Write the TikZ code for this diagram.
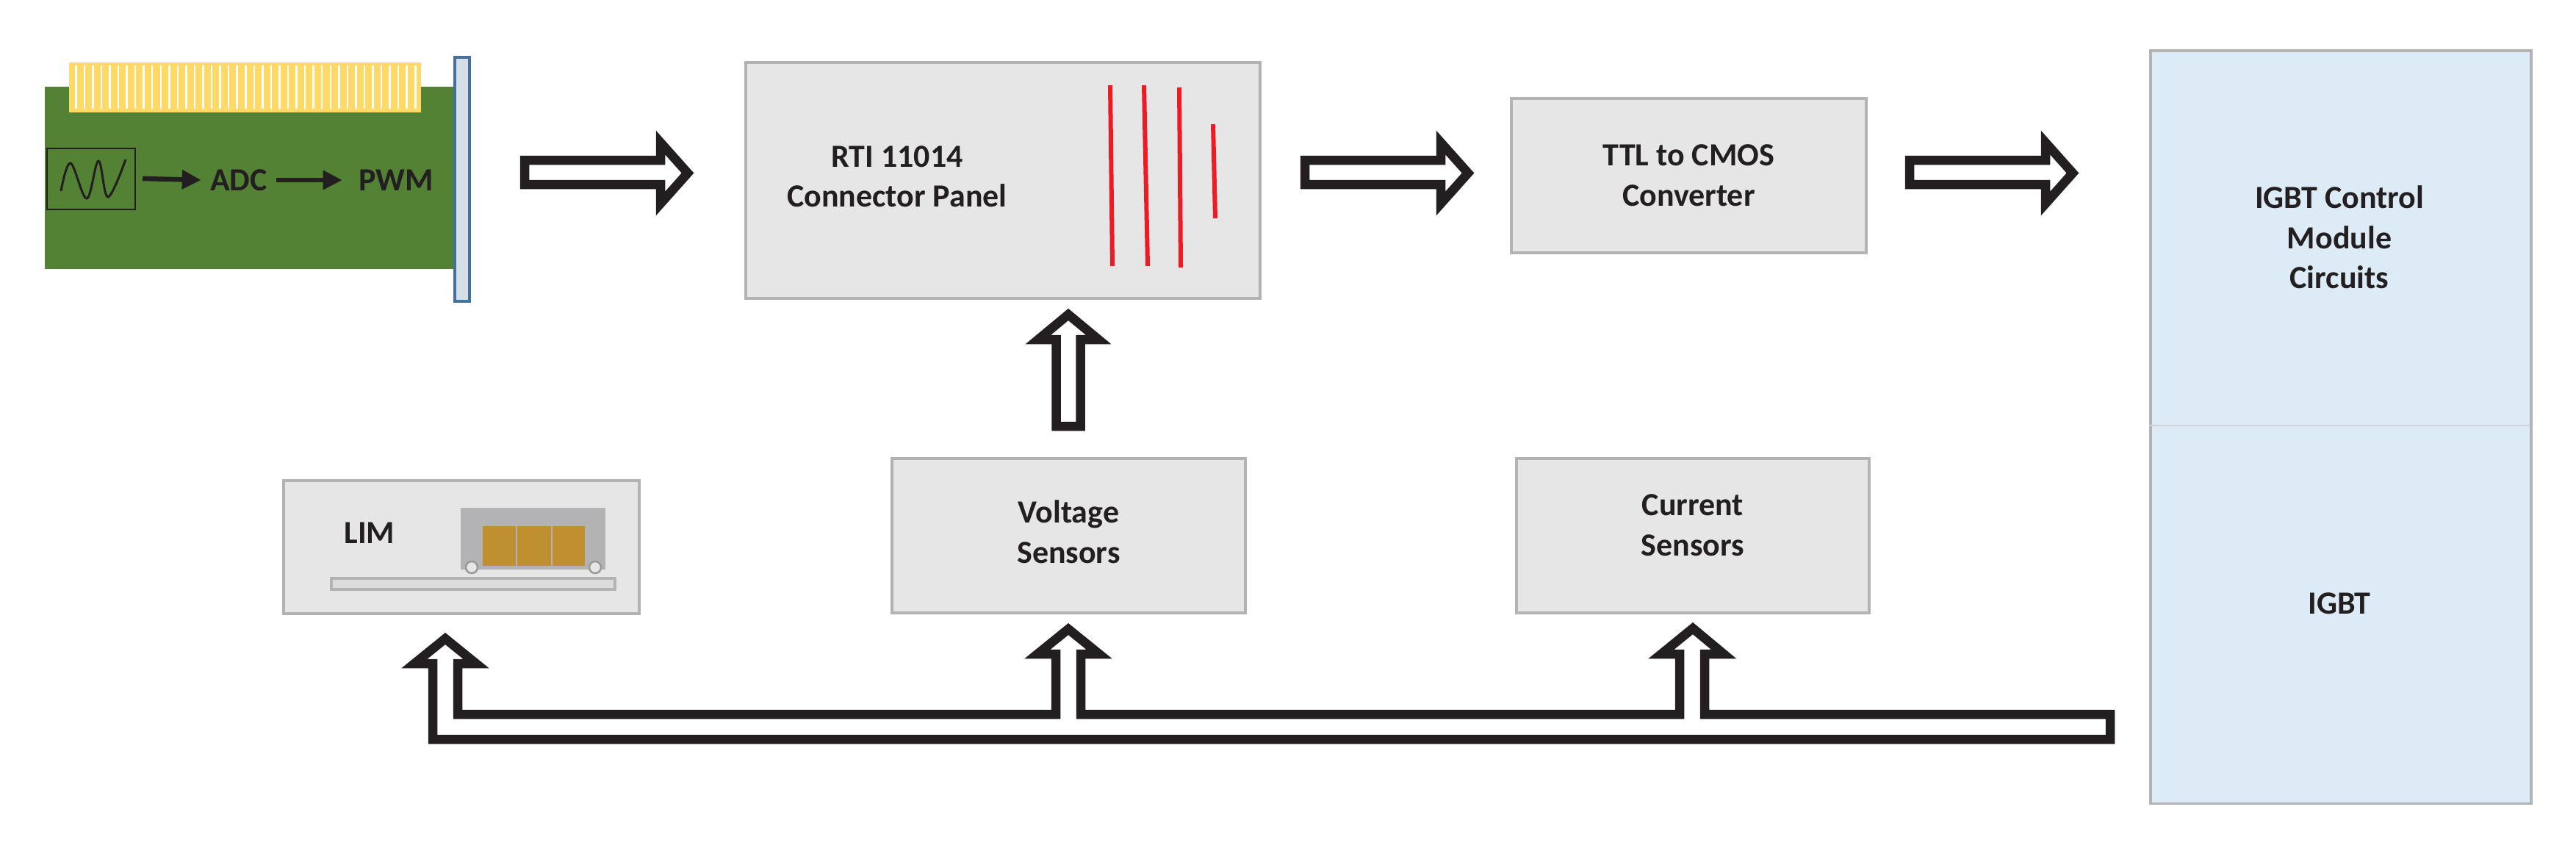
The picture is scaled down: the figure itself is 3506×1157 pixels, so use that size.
\documentclass[tikz,border=0pt]{standalone}
\usepackage{fontspec}
\setmainfont{Carlito}
\usetikzlibrary{arrows.meta}
\definecolor{boxfill}{HTML}{E6E6E6}
\definecolor{boxline}{HTML}{B3B3B5}
\definecolor{igbtfill}{HTML}{DDEBF7}
\definecolor{pcbgreen}{HTML}{548235}
\definecolor{gold}{HTML}{FFD966}
\definecolor{barfill}{HTML}{D6DEE8}
\definecolor{barline}{HTML}{41719C}
\definecolor{cartgold}{HTML}{BF9030}
\definecolor{redline}{HTML}{ED1C24}
\definecolor{pipe}{HTML}{231F20}
\tikzset{
  lbl/.style={font=\fontsize{12.5}{15.5}\selectfont\bfseries, text=pipe, align=center},
  box/.style={draw=boxline, fill=boxfill, line width=1pt, anchor=north west, inner sep=0pt},
  hollow/.style={draw=pipe, line width=0.125cm, miter limit=20, fill=white},
  red/.style={draw=redline, line width=0.06cm},
  small/.style={draw=pipe, line width=0.065cm, -{Triangle[length=0.26cm,width=0.25cm]}}
}
\begin{document}
\begin{tikzpicture}[x=0.01cm,y=-0.01cm]
\useasboundingbox (0,0) rectangle (3506,1157);
% PCB
\fill[pcbgreen] (61,118) rectangle (619,366);
\fill[gold] (94,85) rectangle (573,153);
\foreach \i in {0,...,40} \fill[white] ({102+\i*11.55},89) rectangle ({104.5+\i*11.55},148);
\draw[fill=barfill, draw=barline, line width=1pt] (619,78) rectangle (639,410);
\draw[pipe, line width=0.02cm] (64,202) rectangle (184,285);
\draw[pipe, line width=0.03cm] plot[smooth, tension=0.6] coordinates {(83,260) (96,222) (118,270) (134,219) (147,268) (171,217)};
\node[lbl] (adc) at (325,245) {ADC};
\node[lbl] (pwm) at (539,245) {PWM};
\coordinate (wv) at (194,243);
\draw[small] (wv) -- (adc.west);
\draw[small] (adc.east) -- ([xshift=-0.1cm]pwm.west);
% boxes
\node[box, minimum width=7cm, minimum height=3.21cm] (rti) at (1013,83) {};
\node[lbl] at (1221,240) {RTI 11014\\Connector Panel};
\draw[red] (1511,116) -- (1514,362);
\draw[red] (1557,116) -- (1562,362);
\draw[red] (1605,119) -- (1607,364);
\draw[red] (1651,169) -- (1654,297);
\node[box, minimum width=4.83cm, minimum height=2.1cm] (ttl) at (2055,132) {};
\node[lbl] at (ttl.center) {TTL to CMOS\\Converter};
\node[box, minimum width=4.81cm, minimum height=2.1cm] (vs) at (1212,622) {};
\node[lbl] at ([yshift=0.05cm]vs.center) {Voltage\\Sensors};
\node[box, minimum width=4.8cm, minimum height=2.1cm] (cs) at (2062,622) {};
\node[lbl] at ([yshift=0.14cm]cs.center) {Current\\Sensors};
\node[box, draw=boxline, fill=igbtfill, minimum width=5.18cm, minimum height=10.24cm] (igbt) at (2925,67) {};
\draw[draw=boxline!60, line width=0.6pt] (2925,579) -- (3443,579);
\node[lbl] at (3184,323) {IGBT Control\\Module\\Circuits};
\node[lbl] at (3184,821) {IGBT};
% LIM
\node[box, minimum width=4.84cm, minimum height=1.81cm] (lim) at (384,652) {};
\node[lbl] at (503,725) {LIM};
\fill[boxline] (627,691) rectangle (824,775);
\fill[cartgold] (657,716) rectangle (702,770);
\fill[cartgold] (704,716) rectangle (750,770);
\fill[cartgold] (752,716) rectangle (796,770);
\draw[fill=boxfill, draw=gray!80, line width=0.7pt] (642,772) circle[radius=8];
\draw[fill=boxfill, draw=gray!80, line width=0.7pt] (810,772) circle[radius=8];
\draw[fill=boxfill!80!boxline, draw=boxline, line width=1pt] (451,787) rectangle (837,802);
% top hollow arrows
\foreach \dx in {0,1062,1885}
  \draw[hollow, xshift=\dx*0.01cm] (714,218) -- (899,218) -- (899,194) -- (936,235.5) -- (899,277) -- (899,251) -- (714,251) -- cycle;
% vertical arrow
\draw[hollow] (1437.5,580) -- (1437.5,462) -- (1413,462) -- (1454,428) -- (1495,462) -- (1470.5,462) -- (1470.5,580) -- cycle;
% bottom pipe
\draw[hollow, fill=none] (589,1006) -- (589,903) -- (564,903) -- (606,869) -- (648,903) -- (623,903) -- (623,972)
  -- (1437,972) -- (1437,890) -- (1412,890) -- (1454,856) -- (1496,890) -- (1471,890) -- (1471,972)
  -- (2286,972) -- (2286,890) -- (2261,890) -- (2304,855) -- (2346,890) -- (2320,890) -- (2320,972)
  -- (2872,972) -- (2872,1006) -- cycle;
\end{tikzpicture}
\end{document}
